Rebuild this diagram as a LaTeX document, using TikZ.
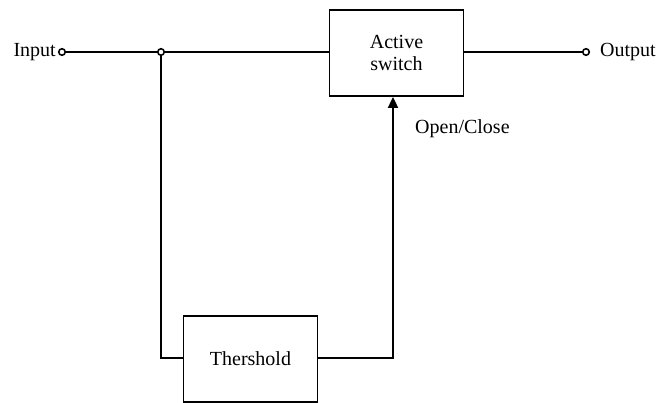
\documentclass[tikz,border=0pt]{standalone}
\usepackage{fontspec}
\setmainfont{Liberation Serif}
\usetikzlibrary{arrows.meta}
\begin{document}
\begin{tikzpicture}[x=1pt,y=-1pt,
  wire/.style={line width=1.8pt},
  blockbox/.style={draw,line width=1.8pt,minimum width=134pt,minimum height=86pt,inner sep=0pt,align=center,font=\fontsize{20}{22}\selectfont},
  term/.style={circle,draw,line width=1.6pt,fill=white,inner sep=0pt,minimum size=6.5pt},
  lbl/.style={font=\fontsize{20}{22}\selectfont,inner sep=0pt}]
\useasboundingbox (0,0) rectangle (656,403);
\node[blockbox] (sw) at (396.5,53) {Active\\switch};
\node[blockbox] (th) at (250.5,359) {Thershold};
\node[term] (in) at (62,52) {};
\node[term] (out) at (586,52) {};
\node[term] (jn) at (161,52) {};
\node[lbl,anchor=east] (inl) at (56,52) {Input};
\node[lbl,anchor=west] (outl) at (600,52) {Output};
\node[lbl,anchor=west] (oc) at (415,129) {Open/Close};
\coordinate (bl) at (161,358);
\coordinate (br) at (393,358);
\draw[wire] (in) -- (jn);
\draw[wire] (jn) -- (sw.west |- jn);
\draw[wire] (sw.east |- out) -- (out);
\draw[wire] (jn) -- (bl) -- (th.west |- bl);
\draw[wire,-{Triangle[length=11pt,width=10pt]}] (th.east |- br) -- (br) -- (br |- sw.south);
\end{tikzpicture}
\end{document}
